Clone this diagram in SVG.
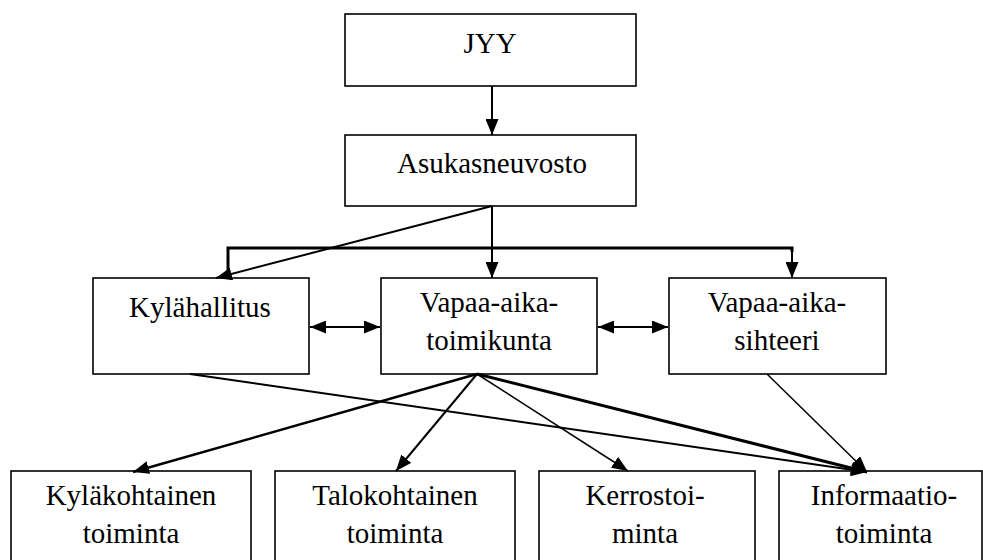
<svg xmlns="http://www.w3.org/2000/svg" width="983" height="560" viewBox="0 0 983 560">
<style>
.box{fill:#fff;stroke:#000;stroke-width:1.6}
.c{stroke:#000;fill:none}
</style>
<defs>
<marker id="ah" viewBox="0 0 16 13" refX="16" refY="6.5" markerWidth="16" markerHeight="13" orient="auto-start-reverse" markerUnits="userSpaceOnUse">
<path d="M0,0 L16,6.5 L0,13 z" fill="#000"/>
</marker>
</defs>
<rect width="983" height="560" fill="#fff"/>
<g font-family="Liberation Serif, Times New Roman, DejaVu Serif, serif" font-size="29" text-anchor="middle" fill="#000">
<g id="jyy"><rect class="box" x="345" y="14" width="291" height="72"/><text x="490" y="53">JYY</text></g>
<g id="asukasneuvosto"><rect class="box" x="345" y="135" width="291" height="71"/><text x="492" y="173">Asukasneuvosto</text></g>
<g id="kylahallitus"><rect class="box" x="93" y="278" width="216" height="96"/><text x="200" y="317">Kylähallitus</text></g>
<g id="toimikunta"><rect class="box" x="381" y="278" width="216" height="96"/><text x="489" y="312">Vapaa-aika-</text><text x="489" y="350">toimikunta</text></g>
<g id="sihteeri"><rect class="box" x="669" y="278" width="217" height="96"/><text x="777" y="312">Vapaa-aika-</text><text x="777" y="350">sihteeri</text></g>
<g id="kylakohtainen"><rect class="box" x="11" y="471" width="240" height="100"/><text x="131" y="505">Kyläkohtainen</text><text x="131" y="543">toiminta</text></g>
<g id="talokohtainen"><rect class="box" x="275" y="471" width="240" height="100"/><text x="395" y="505">Talokohtainen</text><text x="395" y="543">toiminta</text></g>
<g id="kerrostoiminta"><rect class="box" x="539" y="471" width="216" height="100"/><text x="645" y="505">Kerrostoi-</text><text x="645" y="543">minta</text></g>
<g id="informaatio"><rect class="box" x="779" y="471" width="203" height="100"/><text x="884" y="505">Informaatio-</text><text x="884" y="543">toiminta</text></g>
</g>
<g id="connectors">
<line class="c" x1="492" y1="86" x2="492" y2="135" stroke-width="2" marker-end="url(#ah)"/>
<line class="c" x1="492" y1="206" x2="492" y2="278" stroke-width="2" marker-end="url(#ah)"/>
<line class="c" x1="492" y1="206" x2="216" y2="278" stroke-width="2" marker-end="url(#ah)"/>
<polyline class="c" points="228,277 228,248 792,248 792,252" stroke-width="3"/>
<line class="c" x1="792" y1="250" x2="792" y2="278" stroke-width="2" marker-end="url(#ah)"/>
<line class="c" x1="310" y1="327" x2="380" y2="327" stroke-width="2" marker-start="url(#ah)" marker-end="url(#ah)"/>
<line class="c" x1="598" y1="327" x2="668" y2="327" stroke-width="2" marker-start="url(#ah)" marker-end="url(#ah)"/>
<line class="c" x1="190" y1="374" x2="867" y2="472" stroke-width="2" marker-end="url(#ah)"/>
<line class="c" x1="477" y1="374" x2="133" y2="472" stroke-width="2.5" marker-end="url(#ah)"/>
<line class="c" x1="477" y1="374" x2="396" y2="471" stroke-width="2" marker-end="url(#ah)"/>
<line class="c" x1="477" y1="374" x2="628" y2="471" stroke-width="1.5" marker-end="url(#ah)"/>
<line class="c" x1="477" y1="374" x2="867" y2="472" stroke-width="3" marker-end="url(#ah)"/>
<line class="c" x1="767" y1="374" x2="867" y2="472" stroke-width="1.5" marker-end="url(#ah)"/>
</g>
</svg>
